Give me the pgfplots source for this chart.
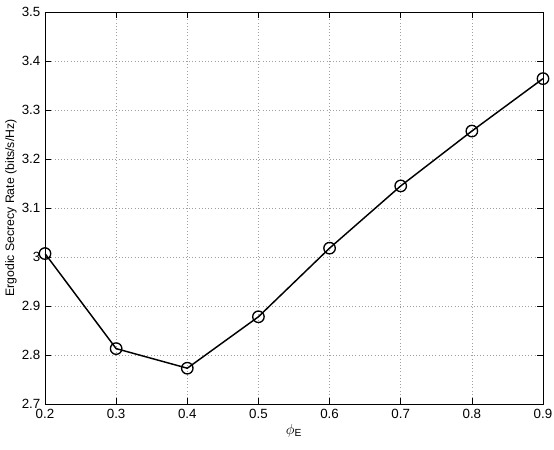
\documentclass[border=0pt]{standalone}
\usepackage{fontspec}
\setmainfont{Liberation Sans}
\usepackage{pgfplots}
\pgfplotsset{compat=1.18}
\begin{document}
\begin{tikzpicture}
\begin{axis}[
  name=ax,
  scale only axis,
  width=373.5pt, height=294pt,
  xmin=0.2, xmax=0.9, ymin=2.7, ymax=3.5,
  xtick={0.2,0.3,...,0.9},
  ytick={2.7,2.8,...,3.5},
  xticklabel style={/pgf/number format/fixed,/pgf/number format/precision=1},
  yticklabel style={/pgf/number format/fixed,/pgf/number format/precision=1},
  /pgf/number format/assume math mode=true,
  tick align=inside,
  tick pos=both,
  major tick length=4.5pt,
  grid=major,
  major grid style={dotted, gray!75, line width=0.45pt},
  axis line style={line width=0.6pt},
  tick style={line width=0.5pt, black},
  font=\fontsize{10}{12}\selectfont,
  xlabel={$\phi$\textsubscript{E}},
  ylabel={Ergodic Secrecy Rate (bits/s/Hz)},
  xlabel style={font=\fontsize{11}{13}\selectfont, yshift=2pt},
  ylabel style={font=\fontsize{9.2}{11}\selectfont, yshift=-3pt},
]
\addplot[black, line width=1.1pt, mark=o, mark size=4.3pt, mark options={line width=1pt}]
coordinates {
(0.2,3.007) (0.3,2.813) (0.4,2.773) (0.5,2.878) (0.6,3.018) (0.7,3.145) (0.8,3.257) (0.9,3.364)
};
\end{axis}
\pgfresetboundingbox
\path (ax.south west) ++(-33.75pt,-34.5pt) coordinate (bl);
\path (ax.north east) ++(8.25pt,9pt) coordinate (tr);
\path (bl) rectangle (tr);
\end{tikzpicture}
\end{document}
